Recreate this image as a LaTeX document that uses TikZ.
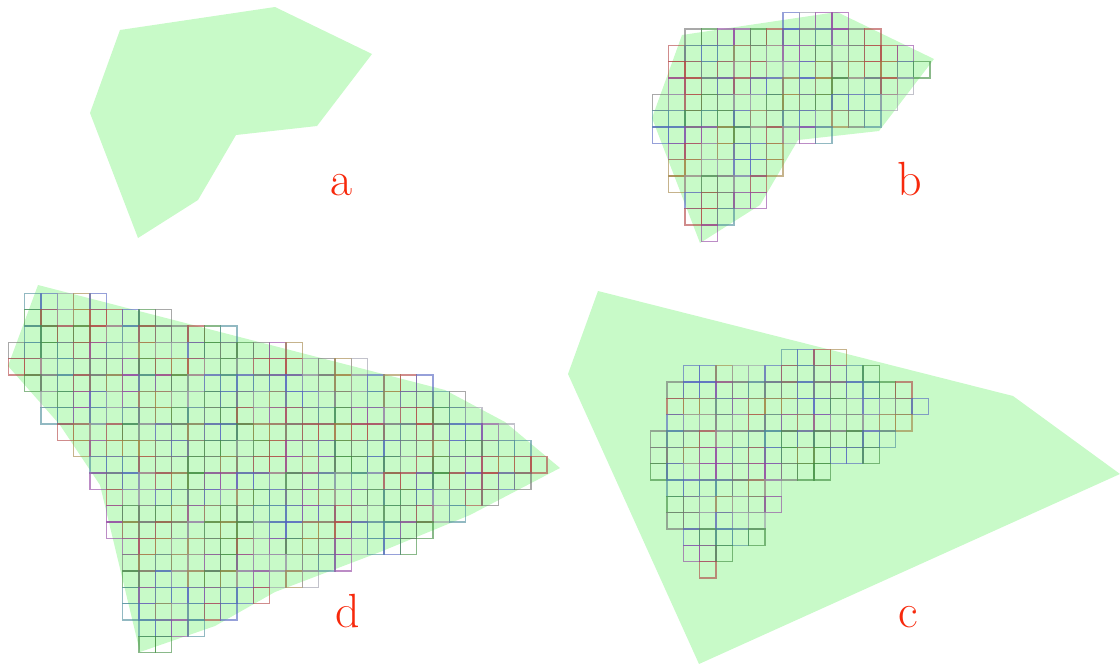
\documentclass[tikz,border=0pt]{standalone}
\usepackage{fontspec}
\usepackage{tikz}
\usetikzlibrary{positioning}
\definecolor{fillgreen}{HTML}{C8FAC8}
\definecolor{labelred}{HTML}{F7290C}
\definecolor{cc0}{HTML}{9A9AA8}
\definecolor{cc1}{HTML}{B04040}
\definecolor{cc2}{HTML}{3C8A3C}
\definecolor{cc3}{HTML}{5060C0}
\definecolor{cc4}{HTML}{9040A0}
\definecolor{cc5}{HTML}{707070}
\definecolor{cc6}{HTML}{4A8A9A}
\definecolor{cc7}{HTML}{A08040}

% cells of the small grid (b and c): row/first col/last col
\newcommand{\smallrows}{0/8/11,1/2/13,2/1/15,3/1/16,4/1/15,5/0/14,6/0/13,7/0/10,8/1/7,9/1/7,10/1/6,11/2/6,12/2/4,13/3/3}
% cells of the big grid (d)
\newcommand{\bigrows}{0/1/5,1/1/9,2/1/13,3/0/17,4/0/21,5/1/25,6/2/27,7/2/28,8/3/30,9/4/31,10/5/32,11/5/31,12/6/29,13/6/27,14/6/25,15/7/24,16/7/20,17/7/18,18/7/15,19/7/13,20/8/11,21/8/9}
\newcommand{\cellsz}{16.33}

\begin{document}
\begin{tikzpicture}[x=1pt, y=-1pt,
  region/.style={fill=fillgreen, draw=none},
  cell/.style={line width=1.4pt, draw opacity=0.6},
  lbl/.style={anchor=base, text=labelred, font=\fontsize{48}{48}\selectfont, inner sep=0pt}
]
  \useasboundingbox (0,0) rectangle (1120,664);
  \pgfmathsetseed{4711}

  % a: the polygon alone
  \fill[region] (120,30) -- (275,7) -- (372,54) -- (317,126) -- (236,135) -- (198,200) -- (138,238) -- (90,113) -- cycle;
  \node[lbl] (la) at (342,195) {a};

  % b: the same polygon with its cells
  \fill[region, shift={(562,5)}] (120,30) -- (275,7) -- (372,54) -- (317,126) -- (236,135) -- (198,200) -- (138,238) -- (90,113) -- cycle;
  \begin{scope}[shift={(652.3,12.7)}]
    \foreach \row/\first/\last in \smallrows {
      \foreach \col in {\first,...,\last} {
        \pgfmathrandominteger{\k}{0}{7}
        \draw[cell, draw=cc\k] ({\col*\cellsz},{\row*\cellsz}) rectangle +(\cellsz,\cellsz);
      }
    }
  \end{scope}
  \node[lbl] (lb) at (910,195) {b};

  % c: a larger polygon holding the cells of b
  \fill[region] (598,291) -- (1013,396) -- (1120,474) -- (699,664) -- (568,374) -- cycle;
  \begin{scope}[shift={(650.7,349.3)}]
    \foreach \row/\first/\last in \smallrows {
      \foreach \col in {\first,...,\last} {
        \pgfmathrandominteger{\k}{0}{7}
        \draw[cell, draw=cc\k] ({\col*\cellsz},{\row*\cellsz}) rectangle +(\cellsz,\cellsz);
      }
    }
  \end{scope}
  \node[lbl] (lc) at (908,627) {c};

  % d: the polygon filled with its own cells
  \fill[region] (38,285) -- (445,390) -- (505,422) -- (560,468) -- (470,515) -- (380,552) -- (275,592) -- (215,626) -- (140,652) -- (100,485) -- (60,425) -- (8,366) -- cycle;
  \begin{scope}[shift={(8.3,293.3)}]
    \foreach \row/\first/\last in \bigrows {
      \foreach \col in {\first,...,\last} {
        \pgfmathrandominteger{\k}{0}{7}
        \draw[cell, draw=cc\k] ({\col*\cellsz},{\row*\cellsz}) rectangle +(\cellsz,\cellsz);
      }
    }
  \end{scope}
  \node[lbl] (ld) at (348,627) {d};
\end{tikzpicture}
\end{document}
